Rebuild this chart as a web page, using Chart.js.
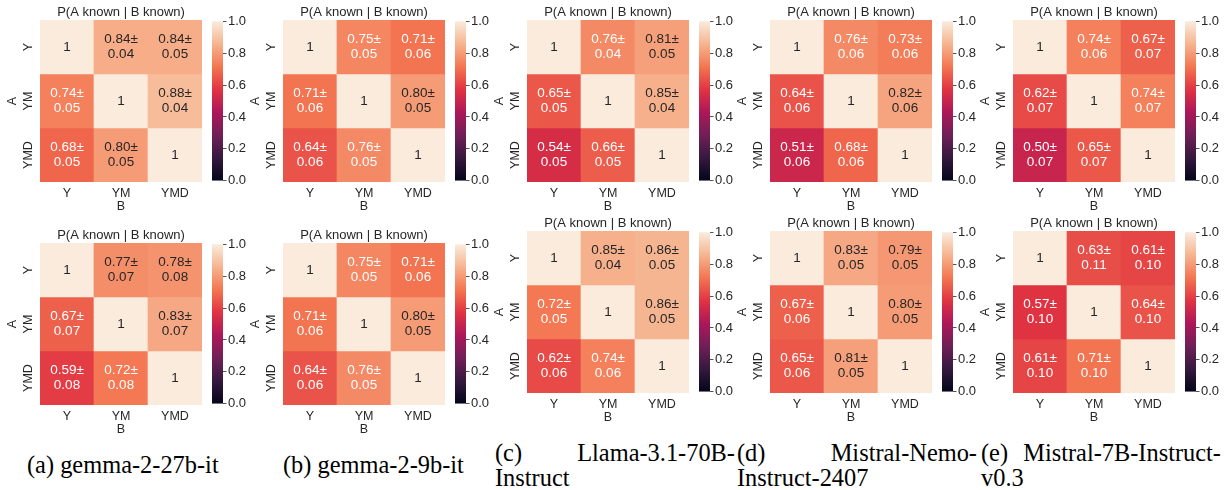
<!DOCTYPE html>
<html>
<head>
<meta charset="utf-8">
<script src="https://cdn.jsdelivr.net/npm/chart.js@4.4.1/dist/chart.umd.min.js"></script>
<style>
  html, body { margin: 0; padding: 0; background: #fff; }
  #page { position: relative; width: 1231px; height: 490px; overflow: hidden; }
  #page canvas { position: absolute; }
  .cap { position: absolute; font-family: "Liberation Serif", serif; font-size: 24.4px; line-height: 25px; color: #000; white-space: nowrap; }
  .line1 { display: flex; justify-content: space-between; }
</style>
</head>
<body>
<div id="page"></div>
<script>
// etiketler
const rowLabels = ['Y', 'YM', 'YMD'];   // A (satirlar)
const colLabels = ['Y', 'YM', 'YMD'];   // B (sutunlar)
const cbarTicks = [0, 0.2, 0.4, 0.6, 0.8, 1.0];

// gemma-2-27b-it
const g27Top = [[1, 0.84, 0.84], [0.74, 1, 0.88], [0.68, 0.80, 1]];
const g27TopErr = [[0, 0.04, 0.05], [0.05, 0, 0.04], [0.05, 0.05, 0]];
const g27Bot = [[1, 0.77, 0.78], [0.67, 1, 0.83], [0.59, 0.72, 1]];
const g27BotErr = [[0, 0.07, 0.08], [0.07, 0, 0.07], [0.08, 0.08, 0]];

// gemma-2-9b-it
const g9Top = [[1, 0.75, 0.71], [0.71, 1, 0.80], [0.64, 0.76, 1]];
const g9TopErr = [[0, 0.05, 0.06], [0.06, 0, 0.05], [0.06, 0.05, 0]];
const g9Bot = [[1, 0.75, 0.71], [0.71, 1, 0.80], [0.64, 0.76, 1]];
const g9BotErr = [[0, 0.05, 0.06], [0.06, 0, 0.05], [0.06, 0.05, 0]];

// Llama-3.1-70B-Instruct
const llamaTop = [[1, 0.76, 0.81], [0.65, 1, 0.85], [0.54, 0.66, 1]];
const llamaTopErr = [[0, 0.04, 0.05], [0.05, 0, 0.04], [0.05, 0.05, 0]];
const llamaBot = [[1, 0.85, 0.86], [0.72, 1, 0.86], [0.62, 0.74, 1]];
const llamaBotErr = [[0, 0.04, 0.05], [0.05, 0, 0.05], [0.06, 0.06, 0]];

// Mistral-Nemo-Instruct-2407
const nemoTop = [[1, 0.76, 0.73], [0.64, 1, 0.82], [0.51, 0.68, 1]];
const nemoTopErr = [[0, 0.06, 0.06], [0.06, 0, 0.06], [0.06, 0.06, 0]];
const nemoBot = [[1, 0.83, 0.79], [0.67, 1, 0.80], [0.65, 0.81, 1]];
const nemoBotErr = [[0, 0.05, 0.05], [0.06, 0, 0.05], [0.06, 0.05, 0]];

// Mistral-7B-Instruct-v0.3
const m7Top = [[1, 0.74, 0.67], [0.62, 1, 0.74], [0.50, 0.65, 1]];
const m7TopErr = [[0, 0.06, 0.07], [0.07, 0, 0.07], [0.07, 0.07, 0]];
const m7Bot = [[1, 0.63, 0.61], [0.57, 1, 0.64], [0.61, 0.71, 1]];
const m7BotErr = [[0, 0.11, 0.10], [0.10, 0, 0.10], [0.10, 0.10, 0]];

// seaborn "rocket" renk haritasi (yaklasik duraklar)
const rocketStops = [
    [0, '#03051a'], [1 / 7, '#35193e'], [2 / 7, '#701f57'], [3 / 7, '#ad1759'],
    [4 / 7, '#e13342'], [5 / 7, '#f37651'], [6 / 7, '#f6b48f'], [1, '#faebdd']
];

function hexToRgb(h) {
    return [1, 3, 5].map(i => parseInt(h.substr(i, 2), 16));
}

function rocket(v) {
    for (let k = 1; k < rocketStops.length; k++) {
        const [t1, c1] = rocketStops[k];
        if (v <= t1) {
            const [t0, c0] = rocketStops[k - 1];
            const f = (v - t0) / (t1 - t0);
            const a = hexToRgb(c0), b = hexToRgb(c1);
            const m = a.map((x, i) => Math.round(x + (b[i] - x) * f));
            return `rgb(${m[0]},${m[1]},${m[2]})`;
        }
    }
    return rocketStops[rocketStops.length - 1][1];
}

Chart.defaults.font.family = '"Liberation Sans", Arial, sans-serif';
Chart.defaults.color = '#262626';

const page = document.getElementById('page');

function addCanvas(x, y, w, h) {
    const cv = document.createElement('canvas');
    cv.width = w; cv.height = h;
    cv.style.left = x + 'px';
    cv.style.top = y + 'px';
    cv.style.width = w + 'px';
    cv.style.height = h + 'px';
    page.appendChild(cv);
    return cv;
}

// hucre yazilari (ortalama ± std)
const cellText = {
    id: 'cellText',
    afterDatasetsDraw(chart) {
        const ctx = chart.ctx;
        ctx.save();
        ctx.font = '13.5px "Liberation Sans", Arial, sans-serif';
        ctx.textAlign = 'center';
        ctx.textBaseline = 'middle';
        chart.data.datasets.forEach((ds, i) => {
            chart.getDatasetMeta(i).data.forEach((bar, j) => {
                const v = ds.vals[j];
                const cy = (bar.y + bar.base) / 2;
                ctx.fillStyle = v >= 0.77 ? '#262626' : '#ffffff';
                if (i === j) {
                    ctx.fillText('1', bar.x, cy);
                } else {
                    ctx.fillText(v.toFixed(2) + '±', bar.x, cy - 7.5);
                    ctx.fillText(ds.errs[j].toFixed(2), bar.x, cy + 7.5);
                }
            });
        });
        ctx.restore();
    }
};

function heatmap(p) {
    const cv = addCanvas(p.left - 40, p.top - 20, 204, 216);
    new Chart(cv, {
        type: 'bar',
        data: {
            labels: colLabels,
            datasets: rowLabels.map((r, i) => ({
                label: r,
                data: colLabels.map(() => 1), // her hucre bir birim
                vals: p.means[i],
                errs: p.errs[i],
                backgroundColor: p.means[i].map(rocket),
                borderWidth: 0,
                barPercentage: 1,
                categoryPercentage: 1
            }))
        },
        options: {
            responsive: false,
            animation: false,
            events: [],
            layout: { padding: { left: 0, right: 2, top: 0, bottom: 0 } },
            plugins: {
                legend: { display: false },
                tooltip: { enabled: false },
                title: {
                    display: true, text: 'P(A known | B known)', color: '#262626', fullSize: false,
                    font: { size: 13, weight: 'normal', lineHeight: 1 }, padding: { top: 6, bottom: 1 }
                }
            },
            scales: {
                x: {
                    stacked: true,
                    grid: { display: false, drawTicks: false },
                    border: { display: false },
                    ticks: { font: { size: 12.5 }, padding: 4, maxRotation: 0, autoSkip: false },
                    title: { display: true, text: 'B', font: { size: 12.5, lineHeight: 1.2 }, padding: { top: 0, bottom: 2 } },
                    afterFit: s => { s.height = 34; }
                },
                y: {
                    stacked: true, reverse: true, min: 0, max: 3,
                    grid: { display: false, drawTicks: false },
                    border: { display: false },
                    afterBuildTicks: s => { s.ticks = rowLabels.map((_, i) => ({ value: i + 0.5 })); },
                    ticks: {
                        font: { size: 12.5 }, minRotation: 90, maxRotation: 90, crossAlign: 'center',
                        padding: -2, autoSkip: false, callback: (v, i) => rowLabels[i]
                    },
                    title: { display: true, text: 'A', font: { size: 12.5, lineHeight: 1.2 }, padding: { top: 5, bottom: 0 } },
                    afterFit: s => { s.width = 40; }
                }
            }
        },
        plugins: [cellText]
    });
}

function cbarGradient(chart) {
    const a = chart.chartArea;
    if (!a) return null;
    const g = chart.ctx.createLinearGradient(0, a.bottom, 0, a.top);
    rocketStops.forEach(([t, c]) => g.addColorStop(t, c));
    return g;
}

function colorbar(p) {
    const cv = addCanvas(p.left + 172, p.top - 8, 42, 178);
    new Chart(cv, {
        type: 'bar',
        data: {
            labels: [''],
            datasets: [{
                data: [[0, 1]],
                backgroundColor: ctx => cbarGradient(ctx.chart),
                borderWidth: 0,
                barPercentage: 1,
                categoryPercentage: 1
            }]
        },
        options: {
            responsive: false,
            animation: false,
            events: [],
            layout: { padding: { left: 0, right: 0, top: 8, bottom: 8 } },
            plugins: { legend: { display: false }, tooltip: { enabled: false } },
            scales: {
                x: { display: false },
                y: {
                    position: 'right', min: 0, max: 1,
                    grid: { drawOnChartArea: false, drawTicks: true, tickLength: 3.5, color: '#262626', lineWidth: 0.8 },
                    border: { display: false },
                    afterBuildTicks: s => { s.ticks = cbarTicks.map(v => ({ value: v })); },
                    ticks: { font: { size: 13 }, padding: 1.5, callback: v => v.toFixed(1) },
                    afterFit: s => { s.width = 31; }
                }
            }
        }
    });
}

// panel yerlesimi (sol/ust = isi haritasinin kosesi)
const lefts = [40, 283, 527, 770, 1013];
const panels = [
    { means: g27Top, errs: g27TopErr, left: lefts[0], top: 20 },
    { means: g9Top, errs: g9TopErr, left: lefts[1], top: 20 },
    { means: llamaTop, errs: llamaTopErr, left: lefts[2], top: 20 },
    { means: nemoTop, errs: nemoTopErr, left: lefts[3], top: 20 },
    { means: m7Top, errs: m7TopErr, left: lefts[4], top: 20 },
    { means: g27Bot, errs: g27BotErr, left: lefts[0], top: 243 },
    { means: g9Bot, errs: g9BotErr, left: lefts[1], top: 243 },
    { means: llamaBot, errs: llamaBotErr, left: lefts[2], top: 231 },
    { means: nemoBot, errs: nemoBotErr, left: lefts[3], top: 231 },
    { means: m7Bot, errs: m7BotErr, left: lefts[4], top: 231 }
];

panels.forEach(p => { heatmap(p); colorbar(p); });

// alt yazilar
function caption(x, y, w, first, rest, second) {
    const d = document.createElement('div');
    d.className = 'cap';
    d.style.left = x + 'px';
    d.style.top = y + 'px';
    if (w) {
        d.style.width = w + 'px';
        d.innerHTML = `<div class="line1"><span>${first}</span><span>${rest}</span></div><div>${second}</div>`;
    } else {
        d.textContent = first + ' ' + rest;
    }
    page.appendChild(d);
}

caption(27, 452, 0, '(a)', 'gemma-2-27b-it');
caption(283, 452, 0, '(b)', 'gemma-2-9b-it');
caption(495, 440, 240, '(c)', 'Llama-3.1-70B-', 'Instruct');
caption(737, 440, 240, '(d)', 'Mistral-Nemo-', 'Instruct-2407');
caption(981, 440, 240, '(e)', 'Mistral-7B-Instruct-', 'v0.3');
</script>
</body>
</html>
